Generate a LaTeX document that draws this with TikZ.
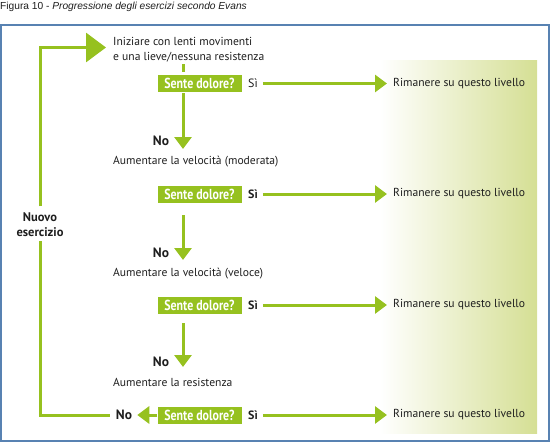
\documentclass[tikz,border=0pt]{standalone}
\usepackage{fontspec}
\setmainfont{PT Sans}
\newfontfamily\condb[FakeStretch=0.82]{PT Sans}
\newfontfamily\titlefont{Liberation Sans}
\usetikzlibrary{arrows.meta}
\definecolor{lime}{RGB}{150,193,31}
\definecolor{framec}{RGB}{88,130,178}
\definecolor{gradc}{RGB}{213,223,148}
\definecolor{txt}{RGB}{30,30,30}
\begin{document}
\begin{tikzpicture}[x=1pt,y=-1pt,
  every node/.style={text=txt,inner sep=0pt},
  body/.style={anchor=west,font=\fontsize{11.6}{15}\selectfont,align=left},
  qbox/.style={fill=lime,text=white,minimum width=84pt,minimum height=17pt,font=\condb\bfseries\fontsize{14.5}{14.5}\selectfont},
  si/.style={anchor=west,font=\bfseries\fontsize{12}{12}\selectfont},
  nolab/.style={font=\bfseries\fontsize{13.5}{13.5}\selectfont},
  gline/.style={draw=lime,line width=3pt},
  garrow/.style={gline,-{Triangle[width=17pt,length=12pt]}},
  bigarrow/.style={gline,-{Triangle[width=29pt,length=20pt]}}]
\useasboundingbox (0,0) rectangle (550,442);
% title
\node[anchor=west,font=\titlefont\fontsize{10.2}{10.2}\selectfont,text=txt] (title) at (0,7)
  {Figura 10 - \textit{Progressione degli esercizi secondo Evans}};
% frame and gradient
\draw[framec,line width=1.5pt] (1,25) rectangle (549,441);
\shade[left color=white,right color=gradc] (380,60) rectangle (537,433);
% texts
\node[body] (t1) at (113,49.5) {Iniziare con lenti movimenti\\e una lieve/nessuna resistenza};
\node[body] (t2) at (113,162) {Aumentare la velocità (moderata)};
\node[body] (t3) at (113,274) {Aumentare la velocità (veloce)};
\node[body] (t4) at (113,382) {Aumentare la resistenza};
% boxes
\node[qbox] (b1) at (199.5,83.5) {Sente dolore?};
\node[qbox] (b2) at (199.5,194) {Sente dolore?};
\node[qbox] (b3) at (199.5,305) {Sente dolore?};
\node[qbox] (b4) at (199.5,415) {Sente dolore?};
% Si labels
\node[si,font=\fontsize{12}{12}\selectfont] (s1) at (248,83.5) {Sì};
\node[si] (s2) at (248,194) {Sì};
\node[si] (s3) at (248,305) {Sì};
\node[si] (s4) at (248,415) {Sì};
% Rimanere
\node[body] (r1) at (393,83.5) {Rimanere su questo livello};
\node[body] (r2) at (393,194) {Rimanere su questo livello};
\node[body] (r3) at (393,305) {Rimanere su questo livello};
\node[body] (r4) at (393,415) {Rimanere su questo livello};
% No labels
\node[nolab] (n1) at (161,141) {No};
\node[nolab] (n2) at (161,253) {No};
\node[nolab] (n3) at (161,362) {No};
\node[nolab] (n4) at (124,415) {No};
\node[nolab,align=center,font=\bfseries\fontsize{12.5}{15}\selectfont] (nuovo) at (40,224.5) {Nuovo\\esercizio};
% coordinates
\coordinate (tk1) at (183,64);
\coordinate (tk2) at (183,72);
\coordinate (d1a) at (183,93);   \coordinate (d1b) at (183,149);
\coordinate (d2a) at (183,215);  \coordinate (d2b) at (183,260);
\coordinate (d3a) at (183,323);  \coordinate (d3b) at (183,367);
\coordinate (top) at (40,47.5);
% connectors
\draw[gline] (tk1) -- (tk2);
\draw[garrow] (d1a) -- (d1b);
\draw[garrow] (d2a) -- (d2b);
\draw[garrow] (d3a) -- (d3b);
\foreach \i in {1,2,3,4}{
  \draw[garrow,shorten <=5pt,shorten >=6pt] (s\i.east) -- (r\i.west);
}
\draw[garrow,shorten >=5pt] (b4.west) -- (n4.east);
\draw[gline,shorten <=6pt] (n4.west) -| ([yshift=-4pt]nuovo.south);
\draw[bigarrow,shorten >=7pt] ([yshift=6pt]nuovo.north) |- (t1.west |- top);
\end{tikzpicture}
\end{document}
